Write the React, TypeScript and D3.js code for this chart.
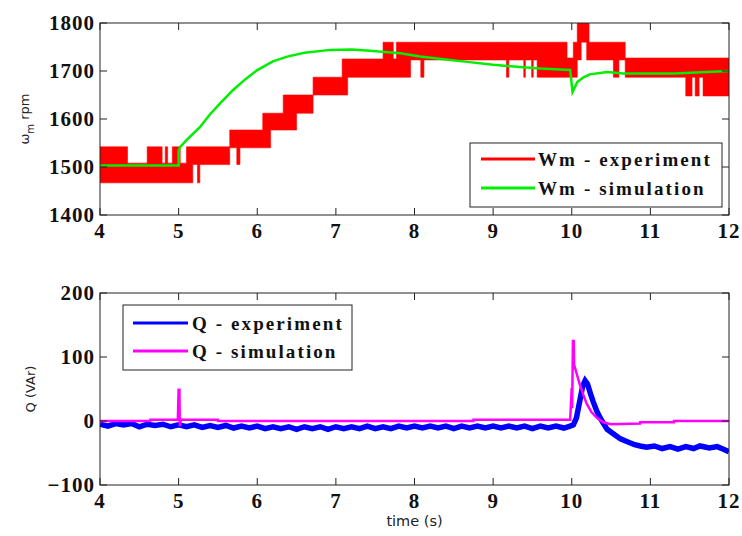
import React from "react";
import * as d3 from "d3";

// ---------- data ----------
const xTicks = [4, 5, 6, 7, 8, 9, 10, 11, 12];
const wTicks = [1400, 1500, 1600, 1700, 1800];
const qTicks = [-100, 0, 100, 200];

// experimental speed: band segments (start time, low, high); band ends at 12 s
const wExpT = [4.0, 4.35, 4.6, 4.79, 4.83, 4.86, 4.92, 5.02, 5.1, 5.18, 5.24, 5.27, 5.65, 5.74, 5.78, 6.07, 6.17, 6.33, 6.5, 6.71, 7.08, 7.15, 7.6, 7.73, 7.77, 7.95, 8.08, 8.12, 9.17, 9.2, 9.39, 9.41, 9.49, 9.51, 9.56, 9.94, 10.02, 10.07, 10.12, 10.19, 10.22, 10.53, 10.6, 10.68, 11.45, 11.53, 11.57, 11.62, 11.67, 12.0];
const wExpLo = [1467, 1467, 1467, 1467, 1467, 1467, 1467, 1467, 1467, 1505, 1467, 1505, 1540, 1505, 1540, 1540, 1577, 1577, 1612, 1650, 1650, 1687, 1687, 1687, 1687, 1723, 1687, 1723, 1687, 1723, 1687, 1723, 1687, 1723, 1687, 1687, 1687, 1723, 1760, 1723, 1723, 1687, 1723, 1687, 1648, 1687, 1648, 1687, 1648, 1648];
const wExpHi = [1542, 1508, 1542, 1508, 1542, 1508, 1542, 1508, 1542, 1542, 1542, 1542, 1577, 1577, 1577, 1612, 1612, 1650, 1650, 1687, 1725, 1725, 1760, 1725, 1760, 1760, 1760, 1760, 1760, 1760, 1760, 1760, 1760, 1760, 1760, 1727, 1760, 1820, 1820, 1820, 1760, 1760, 1760, 1727, 1727, 1727, 1727, 1727, 1727, 1727];

// simulated speed
const wSimT = [4.0, 5.0, 5.0, 5.02, 5.1, 5.27, 5.4, 5.53, 5.69, 5.85, 6.0, 6.2, 6.38, 6.6, 6.93, 7.2, 7.43, 7.82, 8.07, 8.4, 8.67, 9.0, 9.3, 9.6, 9.98, 10.01, 10.04, 10.07, 10.15, 10.23, 10.45, 10.65, 11.3, 12.0];
const wSimV = [1503, 1503, 1535, 1542, 1556, 1583, 1610, 1633, 1660, 1683, 1702, 1720, 1730, 1738, 1744, 1745, 1742, 1737, 1730, 1724, 1719, 1713, 1709, 1705, 1702, 1656, 1666, 1677, 1687, 1693, 1698, 1695, 1695, 1700];

// experimental reactive power
const qExpT = [4.0, 4.1, 4.2, 4.3, 4.4, 4.5, 4.6, 4.7, 4.8, 4.9, 5.0, 5.1, 5.2, 5.3, 5.4, 5.5, 5.6, 5.7, 5.8, 5.9, 6.0, 6.1, 6.2, 6.3, 6.4, 6.5, 6.6, 6.7, 6.8, 6.9, 7.0, 7.1, 7.2, 7.3, 7.4, 7.5, 7.6, 7.7, 7.8, 7.9, 8.0, 8.1, 8.2, 8.3, 8.4, 8.5, 8.6, 8.7, 8.8, 8.9, 9.0, 9.1, 9.2, 9.3, 9.4, 9.5, 9.6, 9.7, 9.8, 9.9, 9.98, 10.02, 10.06, 10.1, 10.14, 10.17, 10.2, 10.24, 10.27, 10.32, 10.36, 10.45, 10.55, 10.62, 10.7, 10.8, 10.87, 10.95, 11.05, 11.15, 11.25, 11.35, 11.45, 11.55, 11.63, 11.75, 11.85, 11.93, 12.0];
const qExpV = [-5, -8, -4, -6, -4, -9, -5, -7, -5, -9, -6, -9, -6, -10, -7, -10, -7, -11, -8, -11, -8, -12, -9, -12, -9, -13, -9, -12, -9, -13, -9, -12, -9, -12, -8, -12, -9, -12, -8, -11, -8, -11, -8, -11, -8, -12, -8, -11, -8, -11, -8, -11, -8, -11, -8, -12, -8, -11, -8, -11, -8, -6, 5, 30, 55, 63, 58, 42, 31, 15, 5, -13, -22, -28, -32, -37, -39, -41, -39, -43, -40, -44, -40, -43, -39, -42, -40, -44, -48];

// simulated reactive power
const qSimT = [4.0, 4.64, 4.64, 4.99, 5.0, 5.01, 5.015, 5.03, 5.5, 5.5, 8.75, 8.75, 9.98, 10.0, 10.005, 10.015, 10.025, 10.03, 10.06, 10.1, 10.15, 10.19, 10.25, 10.32, 10.4, 10.5, 10.87, 10.87, 11.3, 11.3, 12.0];
const qSimV = [0, 0, 2, 2, 49, 49, -8, 2, 2, 0, 0, 2, 2, 52, 20, 125, 125, 88, 75, 58, 40, 27, 14, 5, -2, -5, -4, -2, -2, 0, 0];

const legendTop = ["Wm - experiment", "Wm - simulation"];
const legendBottom = ["Q - experiment", "Q - simulation"];

// ---------- layout ----------
const W = 742, H = 536;
const L = 100, R = 729;
const topY = [23, 215];
const botY = [293, 485];
const TICK = 7;
const serif = "'Liberation Serif', 'Times New Roman', serif";
const sans = "'DejaVu Sans', sans-serif";
const axisColor = "#222";

const x = d3.scaleLinear().domain([4, 12]).range([L, R]);
const yW = d3.scaleLinear().domain([1400, 1800]).range([topY[1], topY[0]]);
const yQ = d3.scaleLinear().domain([-100, 200]).range([botY[1], botY[0]]);

function Frame({ y, yTicks, yFmt }: { y: d3.ScaleLinear<number, number>; yTicks: number[]; yFmt: (v: number) => string }) {
  const [y0, y1] = [y.range()[1], y.range()[0]];
  return (
    <g>
      <rect x={L} y={y0} width={R - L} height={y1 - y0} fill="none" stroke={axisColor} strokeWidth={1} />
      {xTicks.map((t) => (
        <g key={"x" + t}>
          <line x1={x(t)} x2={x(t)} y1={y1} y2={y1 - TICK} stroke={axisColor} />
          <line x1={x(t)} x2={x(t)} y1={y0} y2={y0 + TICK} stroke={axisColor} />
          <text x={x(t)} y={y1 + 23} textAnchor="middle" fontFamily={serif} fontWeight="bold" fontSize={21} letterSpacing={1} fill="#111">{t}</text>
        </g>
      ))}
      {yTicks.map((v) => (
        <g key={"y" + v}>
          <line x1={L} x2={L + TICK} y1={y(v)} y2={y(v)} stroke={axisColor} />
          <line x1={R} x2={R - TICK} y1={y(v)} y2={y(v)} stroke={axisColor} />
          <text x={L - 5} y={y(v)} dy="0.35em" textAnchor="end" fontFamily={serif} fontWeight="bold" fontSize={21} letterSpacing={1} fill="#111">{yFmt(v)}</text>
        </g>
      ))}
    </g>
  );
}

export default function App() {
  const bandData = wExpT.map((t, i) => ({ t, lo: wExpLo[i], hi: wExpHi[i] }));
  const band = d3.area<{ t: number; lo: number; hi: number }>()
    .x((d) => x(d.t)).y0((d) => yW(d.lo)).y1((d) => yW(d.hi)).curve(d3.curveStepAfter);
  const simW = d3.line<number>().x((_, i) => x(wSimT[i])).y((v) => yW(v));
  const expQ = d3.line<number>().x((_, i) => x(qExpT[i])).y((v) => yQ(v));
  const simQ = d3.line<number>().x((_, i) => x(qSimT[i])).y((v) => yQ(v));
  const fmtQ = (v: number) => (v < 0 ? "\u2212" + Math.abs(v) : String(v));

  return (
    <div style={{ position: "absolute", left: 0, top: 0 }}>
      <svg width={W} height={H} style={{ display: "block", background: "#fff" }}>
        <defs>
          <clipPath id="clipTop"><rect x={L} y={topY[0]} width={R - L} height={topY[1] - topY[0]} /></clipPath>
          <clipPath id="clipBot"><rect x={L} y={botY[0]} width={R - L} height={botY[1] - botY[0]} /></clipPath>
        </defs>

        {/* top panel */}
        <g clipPath="url(#clipTop)">
          <path d={band(bandData) ?? ""} fill="#ff0000" stroke="#ff0000" strokeWidth={0.6} />
          <path d={simW(wSimV) ?? ""} fill="none" stroke="#00ee00" strokeWidth={2.5} />
        </g>
        <Frame y={yW} yTicks={wTicks} yFmt={(v) => String(v)} />
        <text transform="translate(29,119) rotate(-90)" textAnchor="middle" fontFamily={sans} fontSize={13} fill="#222">
          <tspan>ω</tspan><tspan fontSize={10} dy={5}>m</tspan><tspan dy={-5}> rpm</tspan>
        </text>
        <g>
          <rect x={470} y={143} width={252} height={64} fill="#fff" stroke={axisColor} />
          {legendTop.map((s, i) => (
            <g key={s}>
              <line x1={481} x2={535} y1={159 + i * 29} y2={159 + i * 29} stroke={i === 0 ? "#ff0000" : "#00ee00"} strokeWidth={3} />
              <text x={538} y={166 + i * 29} fontFamily={serif} fontWeight="bold" fontSize={19} letterSpacing={2.1} fill="#111">{s}</text>
            </g>
          ))}
        </g>

        {/* bottom panel */}
        <g clipPath="url(#clipBot)">
          <path d={expQ(qExpV) ?? ""} fill="none" stroke="#0000ff" strokeWidth={5.5} strokeLinejoin="miter" />
          <path d={simQ(qSimV) ?? ""} fill="none" stroke="#ff00ff" strokeWidth={2.5} />
        </g>
        <Frame y={yQ} yTicks={qTicks} yFmt={fmtQ} />
        <text transform="translate(35,389) rotate(-90)" textAnchor="middle" fontFamily={sans} fontSize={13} fill="#222">Q (VAr)</text>
        <text x={(L + R) / 2} y={526} textAnchor="middle" fontFamily={sans} fontSize={14.5} fill="#222">time (s)</text>
        <g>
          <rect x={123} y={305} width={229} height={65} fill="#fff" stroke={axisColor} />
          {legendBottom.map((s, i) => (
            <g key={s}>
              <line x1={133} x2={188} y1={323 + i * 28} y2={323 + i * 28} stroke={i === 0 ? "#0000ff" : "#ff00ff"} strokeWidth={3} />
              <text x={192} y={330 + i * 28} fontFamily={serif} fontWeight="bold" fontSize={19} letterSpacing={2.1} fill="#111">{s}</text>
            </g>
          ))}
        </g>
      </svg>
    </div>
  );
}
